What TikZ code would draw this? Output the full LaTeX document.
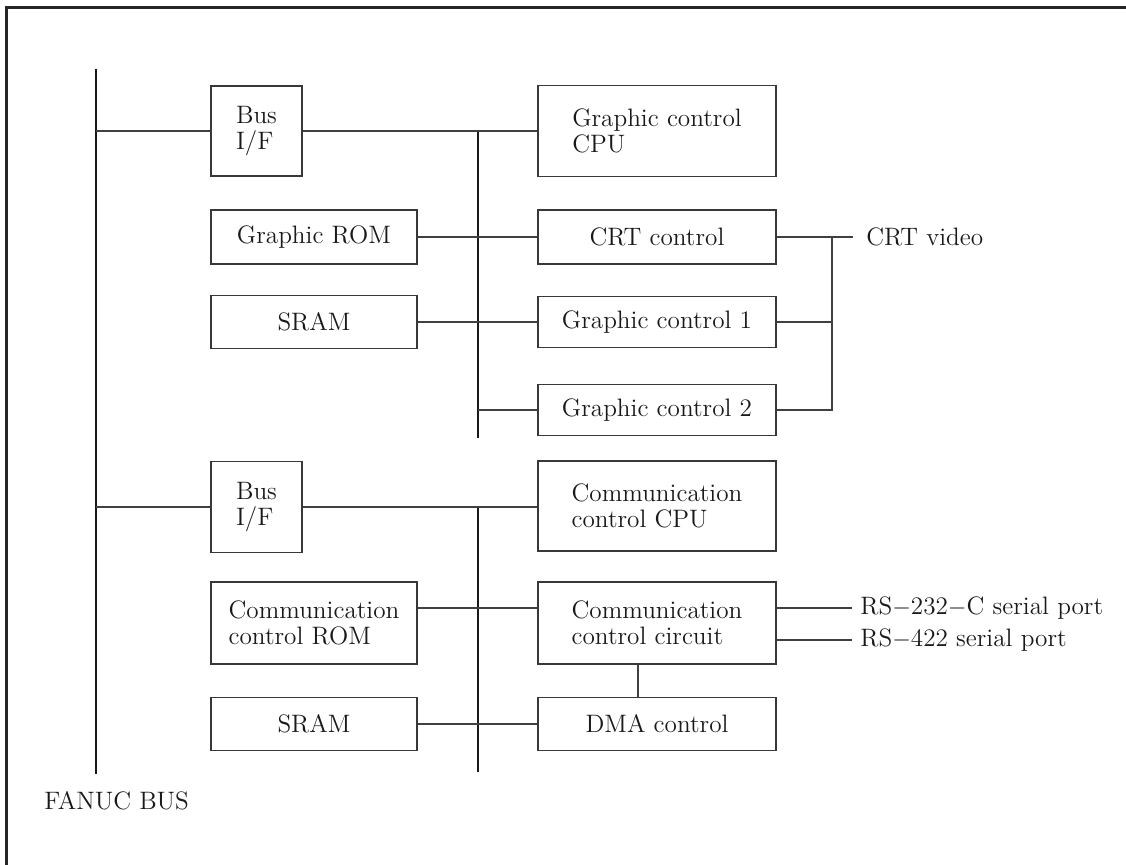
\documentclass[tikz,border=0pt]{standalone}
\begin{document}
\begin{tikzpicture}[x=0.5pt,y=-0.5pt,
  box/.style={draw=black!78, line width=0.65pt, inner sep=0pt, align=left,
    font=\fontsize{12.6}{13}\selectfont, text=black!90},
  lbl/.style={inner sep=0pt, font=\fontsize{12.6}{13}\selectfont, text=black!90},
  wire/.style={draw=black!75, line width=0.65pt},
  busline/.style={draw=black!90, line width=1.3pt},
  frameline/.style={draw=black!85, line width=1.5pt}]
\useasboundingbox (0,0) rectangle (1126,865);
% frame
\coordinate (ftr) at (1126,8);
\coordinate (ftl) at (6,8);
\coordinate (fbl) at (6,865);
\draw[frameline] (ftr) -- (ftl) -- (fbl);
% FANUC bus
\coordinate (fb1) at (96,69);
\coordinate (fb2) at (96,774);
\draw[busline] (fb1) -- (fb2);
\node[lbl, anchor=base west] (fanuc) at (44,810) {FANUC BUS};
% graphic group
\node[box, minimum width=45.5pt, minimum height=45pt] (busif1) at (256.5,131) {Bus\\I/F};
\node[box, minimum width=119pt, minimum height=45.5pt] (gcpu) at (657,131) {Graphic control\\CPU};
\node[box, minimum width=103pt, minimum height=27pt] (grom) at (314,237) {Graphic ROM};
\node[box, minimum width=119pt, minimum height=27pt] (crt) at (657,237) {CRT control};
\node[box, minimum width=103pt, minimum height=26.5pt] (sram1) at (314,322) {SRAM};
\node[box, minimum width=119pt, minimum height=25.5pt] (gc1) at (657,322) {Graphic control 1};
\node[box, minimum width=119pt, minimum height=25.5pt] (gc2) at (657,410) {Graphic control 2};
\coordinate (lb1t) at (478,131);
\coordinate (lb1b) at (478,438);
\draw[busline] (lb1t) -- (lb1b);
\draw[wire] (fb1 |- busif1.west) -- (busif1.west);
\draw[wire] (busif1.east) -- (gcpu.west);
\draw[wire] (grom.east) -- (crt.west);
\draw[wire] (sram1.east) -- (gc1.west);
\draw[wire] (lb1t |- gc2.west) -- (gc2.west);
\coordinate (rv) at (832,237);
\coordinate (cv) at (853,237);
\draw[wire] (crt.east) -- (cv);
\draw[wire] (gc1.east) -- (gc1.east -| rv);
\draw[wire] (gc2.east) -| (rv);
\node[lbl, anchor=west] (crtv) at (866,237) {CRT video};
% communication group
\node[box, minimum width=45.5pt, minimum height=45.5pt] (busif2) at (256.5,507) {Bus\\I/F};
\node[box, minimum width=119pt, minimum height=45pt] (ccpu) at (657,506) {Communication\\control CPU};
\node[box, minimum width=103pt, minimum height=41pt] (crom) at (314,623) {Communication\\control ROM};
\node[box, minimum width=119pt, minimum height=41pt] (ccc) at (657,623) {Communication\\control circuit};
\node[box, minimum width=103pt, minimum height=26.5pt] (sram2) at (314,724) {SRAM};
\node[box, minimum width=119pt, minimum height=26.5pt] (dma) at (657,724) {DMA control};
\coordinate (lb2t) at (478,507);
\coordinate (lb2b) at (478,772);
\draw[busline] (lb2t) -- (lb2b);
\draw[wire] (fb1 |- busif2.west) -- (busif2.west);
\draw[wire] (busif2.east) -- (busif2.east -| ccpu.west);
\coordinate (y608) at (0,608);
\coordinate (y640) at (0,640);
\coordinate (x638) at (638,0);
\coordinate (x852) at (852,0);
\draw[wire] (crom.east |- y608) -- (ccc.west |- y608);
\draw[wire] (sram2.east) -- (dma.west);
\draw[wire] (ccc.south -| x638) -- (dma.north -| x638);
\draw[wire] (ccc.east |- y608) -- (x852 |- y608);
\draw[wire] (ccc.east |- y640) -- (x852 |- y640);
\node[lbl, anchor=base west] (rs232) at (860,615) {RS$-$232$-$C serial port};
\node[lbl, anchor=base west] (rs422) at (860,647) {RS$-$422 serial port};
\end{tikzpicture}
\end{document}
